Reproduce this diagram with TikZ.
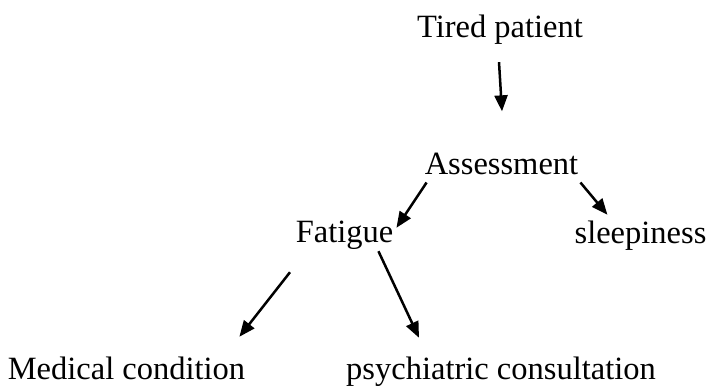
\documentclass[tikz,border=0pt]{standalone}
\usepackage{fontspec}
\setmainfont{Liberation Serif}
\usetikzlibrary{arrows.meta}

\begin{document}
\begin{tikzpicture}[x=1pt,y=-1pt]
\tikzstyle{every node}+=[inner sep=0pt,anchor=base,font=\fontsize{32.5}{39}\selectfont]
\tikzstyle{arr}=[black,line width=2.5pt,-{Triangle[length=16pt,width=13pt]}]
\useasboundingbox (0,0) rectangle (707,388);
\node (tired) at (500,37) {Tired patient};
\node (assess) at (501.5,174) {Assessment};
\node (fatigue) at (344.5,242) {Fatigue};
\node (sleep) at (640.5,243) {sleepiness};
\node (medical) at (126.5,379) {Medical condition};
\node (psych) at (501,379) {psychiatric consultation};
\draw [arr] ([shift={(-1,18)}]tired.south) -- ([shift={(0.5,-41)}]assess.north);
\draw [arr] ([shift={(2,8)}]assess.south west) -- ([shift={(3,7.5)}]fatigue.north east);
\draw [arr] ([shift={(2,8)}]assess.south east) -- ([shift={(33,-5.5)}]sleep.north west);
\draw [arr] ([shift={(-54.5,23)}]fatigue.south) -- ([shift={(-6,-19.5)}]medical.north east);
\draw [arr] ([shift={(-15,2)}]fatigue.south east) -- ([shift={(-82,-18.5)}]psych.north);
\end{tikzpicture}
\end{document}
